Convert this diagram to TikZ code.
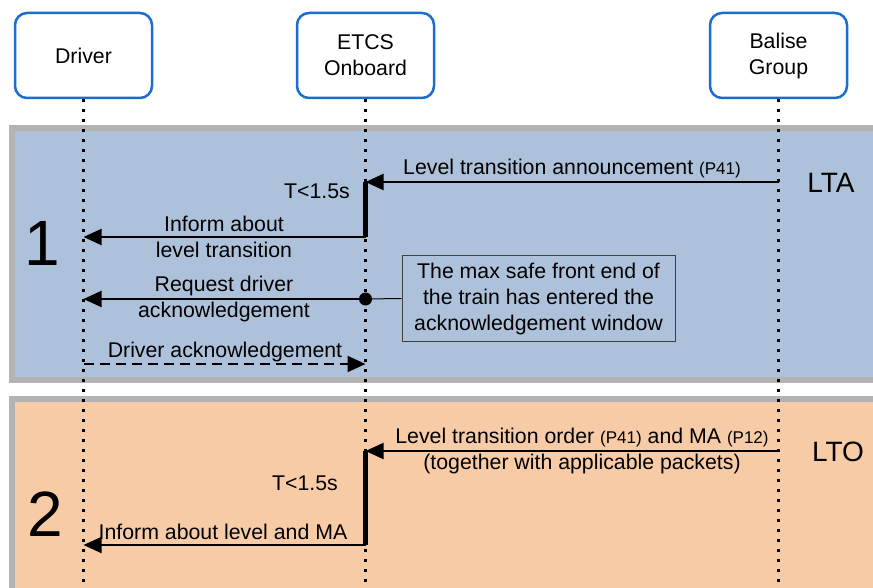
\documentclass[tikz,border=0pt]{standalone}
\usepackage{fontspec}
\setmainfont{Liberation Sans}
\usetikzlibrary{arrows.meta}
\definecolor{boxblue}{HTML}{1C6DD0}
\definecolor{panelblue}{HTML}{ADC2DA}
\definecolor{panelpeach}{HTML}{F8CBA7}
\definecolor{panelgray}{HTML}{B3B3B3}
\newcommand{\sm}[1]{{\fontsize{17}{20}\selectfont #1}}
\tikzset{
  actor/.style={draw=boxblue, line width=2.5pt, rounded corners=12pt, fill=white,
    minimum width=137pt, minimum height=85pt, align=center, inner sep=0pt,
    font=\fontsize{21.3}{26}\selectfont},
  panel/.style={draw=panelgray, line width=6pt},
  life/.style={line width=2.5pt, dash pattern=on 2.5pt off 7.5pt},
  msg/.style={line width=2pt, -{Triangle[length=18pt,width=16pt]}},
  dmsg/.style={msg, dash pattern=on 10pt off 6pt},
  act/.style={line width=4.5pt},
  lbl/.style={align=center, inner sep=0pt, font=\fontsize{21.3}{26}\selectfont},
  big/.style={inner sep=0pt, font=\fontsize{64}{64}\selectfont},
  tag/.style={inner sep=0pt, font=\fontsize{28}{30}\selectfont},
  note/.style={draw=black!75, line width=1pt, fill=panelblue, align=center,
    minimum width=273pt, minimum height=85pt, inner sep=0pt,
    font=\fontsize{21.3}{26}\selectfont}
}
\begin{document}
\begin{tikzpicture}[x=1pt,y=-1pt]
\useasboundingbox (0,0) rectangle (873,588);
% panels
\path[panel, fill=panelblue] (12,128) rectangle (885,380);
\path[panel, fill=panelpeach] (12,399) rectangle (885,610);
% actors
\node[actor] (drv) at (83.5,55.5) {Driver};
\node[actor] (etcs) at (365.5,55.5) {ETCS\\Onboard};
\node[actor] (bal) at (778.5,55.5) {Balise\\Group};
% lifeline ends
\coordinate (drvE) at (83.5,592);
\coordinate (etcsE) at (365.5,592);
\coordinate (balE) at (778.5,592);
\draw[life] (drv.south) -- (drvE);
\draw[life] (etcs.south) -- (etcsE);
\draw[life] (bal.south) -- (balE);
% panel labels
\node[big] (n1) at (42,243) {1};
\node[big] (n2) at (45,514) {2};
\node[tag] (lta) at (831,183) {LTA};
\node[tag] (lto) at (838,452) {LTO};
% phase 1
\coordinate (b1) at (778.5,182);
\coordinate (e1) at (365.5,182);
\coordinate (e2) at (365.5,237);
\coordinate (d2) at (83.5,237);
\coordinate (e3) at (365.5,299);
\coordinate (d3) at (83.5,299);
\coordinate (d4) at (83.5,364);
\coordinate (e4) at (365.5,364);
\draw[msg] (b1) -- (e1);
\node[lbl, anchor=base] (l1) at (572,175) {Level transition announcement \sm{(P41)}};
\draw[act] (e1) -- (e2);
\node[lbl, anchor=base east] (t1) at (350,199) {T<1.5s};
\draw[msg] (e2) -- (d2);
\node[lbl] (l2) at (224,237) {Inform about\\level transition};
\node[note] (nt) at (538.5,298.5) {The max safe front end of\\the train has entered the\\acknowledgement window};
\draw[line width=1pt] (e3) -- (nt.west);
\draw[msg] (e3) -- (d3);
\fill (e3) circle (6.5pt);
\node[lbl] (l3) at (224,299) {Request driver\\acknowledgement};
\draw[dmsg] (d4) -- (e4);
\node[lbl, anchor=base] (l4) at (225,357) {Driver acknowledgement};
% phase 2
\coordinate (b5) at (778.5,451);
\coordinate (e5) at (365.5,451);
\coordinate (e6) at (365.5,545);
\coordinate (d6) at (83.5,545);
\draw[msg] (b5) -- (e5);
\node[lbl] (l5) at (582,451) {Level transition order \sm{(P41)} and MA \sm{(P12)}\\(together with applicable packets)};
\draw[act] (e5) -- (e6);
\node[lbl, anchor=base east] (t2) at (338,490) {T<1.5s};
\draw[msg] (e6) -- (d6);
\node[lbl, anchor=base] (l6) at (223,539) {Inform about level and MA};
\end{tikzpicture}
\end{document}
